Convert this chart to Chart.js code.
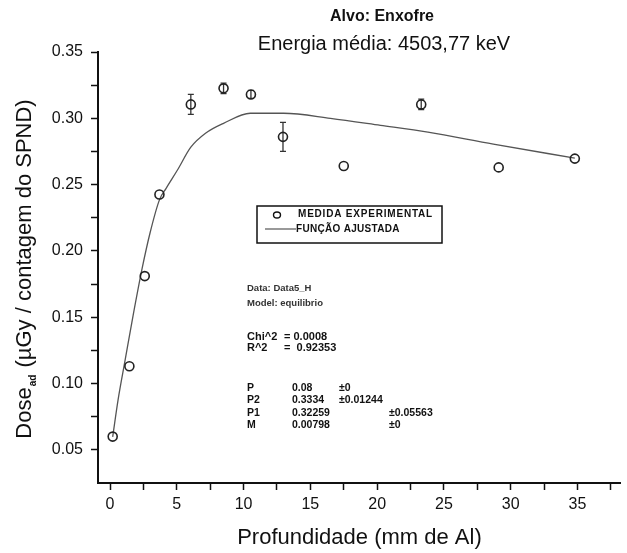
<!DOCTYPE html>
<html>
<head>
<meta charset="utf-8">
<script src="https://cdn.jsdelivr.net/npm/chart.js@4.4.1/dist/chart.umd.min.js"></script>
<style>
  html, body { margin: 0; padding: 0; background: #fff; }
  canvas { display: block; }
</style>
</head>
<body>
<canvas id="chart" width="627" height="553"></canvas>
<script>
// ---- data ----
const depth = [0.2, 1.45, 2.6, 3.7, 6.05, 8.5, 10.55, 12.95, 17.5, 23.3, 29.1, 34.8];
const dose = [0.060, 0.113, 0.181, 0.2425, 0.3105, 0.3226, 0.318, 0.286, 0.264, 0.3105, 0.263, 0.2696];
const doseErr = [0, 0, 0, 0, 0.0075, 0.004, 0.003, 0.011, 0, 0.004, 0, 0];

const fitX = [0.2, 0.6, 1.13, 1.73, 2.4, 3.0, 3.7, 4.2, 5.05, 6.05, 7.15, 8.5, 10.5, 13.0, 16.5, 20.25, 23.8, 28.7, 34.8];
const fitY = [0.0598, 0.0875, 0.1176, 0.1514, 0.1866, 0.2137, 0.2385, 0.2472, 0.2610, 0.2782, 0.2887, 0.2962, 0.3038, 0.3038, 0.300, 0.2947, 0.2895, 0.2805, 0.270];

const xTickValues = [0, 5, 10, 15, 20, 25, 30, 35];
const yTickValues = [0.05, 0.10, 0.15, 0.20, 0.25, 0.30, 0.35];

const seriesLabels = ['MEDIDA EXPERIMENTAL', 'FUNÇÃO AJUSTADA'];
const titleLines = ['Alvo: Enxofre', 'Energia média: 4503,77 keV'];
const fitInfo = [
    ['Data: Data5_H'],
    ['Model: equilibrio'],
    ['Chi^2', '= 0.0008'],
    ['R^2', '=  0.92353'],
];
const fitParams = [
    ['P', '0.08', '±0', 0],
    ['P2', '0.3334', '±0.01244', 0],
    ['P1', '0.32259', '±0.05563', 1],
    ['M', '0.00798', '±0', 1],
];

const FONT = 'Arial, "Liberation Sans", sans-serif';

// error bars, titles, legend box and fit report
const decor = {
    id: 'decor',
    beforeDatasetsDraw(chart) {
        const {ctx, scales: {x, y}} = chart;
        ctx.save();
        ctx.strokeStyle = '#333';
        ctx.lineWidth = 1.3;
        depth.forEach((d, i) => {
            if (!doseErr[i]) return;
            const px = x.getPixelForValue(d);
            const top = y.getPixelForValue(dose[i] + doseErr[i]);
            const bot = y.getPixelForValue(dose[i] - doseErr[i]);
            ctx.beginPath();
            ctx.moveTo(px, top); ctx.lineTo(px, bot);
            ctx.moveTo(px - 3, top); ctx.lineTo(px + 3, top);
            ctx.moveTo(px - 3, bot); ctx.lineTo(px + 3, bot);
            ctx.stroke();
        });
        ctx.restore();
    },
    afterDraw(chart) {
        const ctx = chart.ctx;
        ctx.save();
        ctx.fillStyle = '#111';
        ctx.textBaseline = 'middle';

        // title
        ctx.textAlign = 'center';
        ctx.font = 'bold 16px ' + FONT;
        ctx.fillText(titleLines[0], 382, 17);
        ctx.font = '20px ' + FONT;
        ctx.fillText(titleLines[1], 384, 44);

        // y axis title with subscript
        ctx.save();
        ctx.translate(25, 270);
        ctx.rotate(-Math.PI / 2);
        ctx.textAlign = 'left';
        const big = '22px ' + FONT, small = 'bold 10px ' + FONT;
        ctx.font = big;
        const w1 = ctx.measureText('Dose').width;
        const w3 = ctx.measureText(' (µGy / contagem do SPND)').width;
        ctx.font = small;
        const w2 = ctx.measureText('ad').width;
        const sx = -(w1 + w2 + w3) / 2;
        ctx.font = big;
        ctx.fillText('Dose', sx, 0);
        ctx.font = small;
        ctx.fillText('ad', sx + w1 + 1, 8);
        ctx.font = big;
        ctx.fillText(' (µGy / contagem do SPND)', sx + w1 + w2 + 2, 0);
        ctx.restore();

        // legend box
        ctx.strokeStyle = '#111';
        ctx.lineWidth = 1.5;
        ctx.strokeRect(257, 206, 185, 37);
        ctx.lineWidth = 1.4;
        ctx.beginPath();
        ctx.ellipse(277, 215, 3.5, 3, 0, 0, Math.PI * 2);
        ctx.stroke();
        ctx.strokeStyle = '#555';
        ctx.lineWidth = 1.2;
        ctx.beginPath();
        ctx.moveTo(265, 229); ctx.lineTo(296, 229);
        ctx.stroke();
        ctx.textAlign = 'left';
        ctx.font = 'bold 10px ' + FONT;
        ctx.letterSpacing = '0.8px';
        ctx.fillText(seriesLabels[0], 298, 214);
        ctx.letterSpacing = '0.3px';
        ctx.fillText(seriesLabels[1], 296, 229);
        ctx.letterSpacing = '0px';

        // fit report
        ctx.fillStyle = '#333';
        ctx.font = 'bold 9.5px ' + FONT;
        ctx.fillText(fitInfo[0][0], 247, 288);
        ctx.fillText(fitInfo[1][0], 247, 303);
        ctx.fillStyle = '#111';
        ctx.font = 'bold 11px ' + FONT;
        ctx.fillText(fitInfo[2][0], 247, 337);
        ctx.fillText(fitInfo[2][1], 284, 337);
        ctx.fillText(fitInfo[3][0], 247, 348);
        ctx.fillText(fitInfo[3][1], 284, 348);
        ctx.font = 'bold 10.5px ' + FONT;
        fitParams.forEach((p, i) => {
            const ry = 388 + i * 12.5;
            ctx.fillText(p[0], 247, ry);
            ctx.fillText(p[1], 292, ry);
            ctx.fillText(p[2], p[3] ? 389 : 339, ry);
        });
        ctx.restore();
    }
};

const axisCommon = {
    border: {display: true, color: '#111', width: 2},
    grid: {display: true, drawOnChartArea: false, drawTicks: true, tickLength: 7, tickColor: '#111',
        tickWidth: 1.5},
};

new Chart(document.getElementById('chart'), {
    type: 'scatter',
    data: {
        datasets: [
            {
                label: seriesLabels[0],
                data: depth.map((d, i) => ({x: d, y: dose[i]})),
                showLine: false,
                pointStyle: 'circle',
                pointRadius: 4.5,
                pointBorderWidth: 1.6,
                pointBorderColor: '#222',
                pointBackgroundColor: 'rgba(255,255,255,0)',
                order: 1,
            },
            {
                label: seriesLabels[1],
                type: 'line',
                data: fitX.map((d, i) => ({x: d, y: fitY[i]})),
                borderColor: '#555',
                borderWidth: 1.3,
                pointRadius: 0,
                fill: false,
                cubicInterpolationMode: 'monotone',
                order: 2,
            },
        ]
    },
    options: {
        responsive: false,
        animation: false,
        events: [],
        layout: {padding: {left: 0, top: 52, right: 0, bottom: 0}},
        plugins: {legend: {display: false}, tooltip: {enabled: false}, title: {display: false}},
        scales: {
            x: {
                ...axisCommon,
                type: 'linear',
                min: -0.9,
                max: 38.25,
                afterBuildTicks: s => {
                    // major ticks plus a minor one half way to the next
                    s.ticks = xTickValues.flatMap(v => [v, v + 2.5]).map(value => ({value}));
                },
                afterFit: s => { s.height = 70; },
                ticks: {
                    autoSkip: false,
                    maxRotation: 0,
                    padding: 5,
                    color: '#111',
                    font: {family: FONT, size: 16},
                    callback: v => xTickValues.includes(v) ? String(v) : '',
                },
                title: {
                    display: true,
                    text: 'Profundidade (mm de Al)',
                    color: '#111',
                    font: {family: FONT, size: 22},
                    padding: {top: 0, bottom: 2},
                },
            },
            y: {
                ...axisCommon,
                type: 'linear',
                min: 0.025,
                max: 0.35,
                afterBuildTicks: s => {
                    s.ticks = yTickValues.flatMap(v => v > 0.06 ? [v - 0.025, v] : [v]).map(value => ({value}));
                },
                afterFit: s => { s.width = 98; },
                ticks: {
                    autoSkip: false,
                    padding: 8,
                    color: '#111',
                    font: {family: FONT, size: 16},
                    callback: v => yTickValues.includes(v) ? v.toFixed(2) : '',
                },
            },
        },
    },
    plugins: [decor],
});
</script>
</body>
</html>
